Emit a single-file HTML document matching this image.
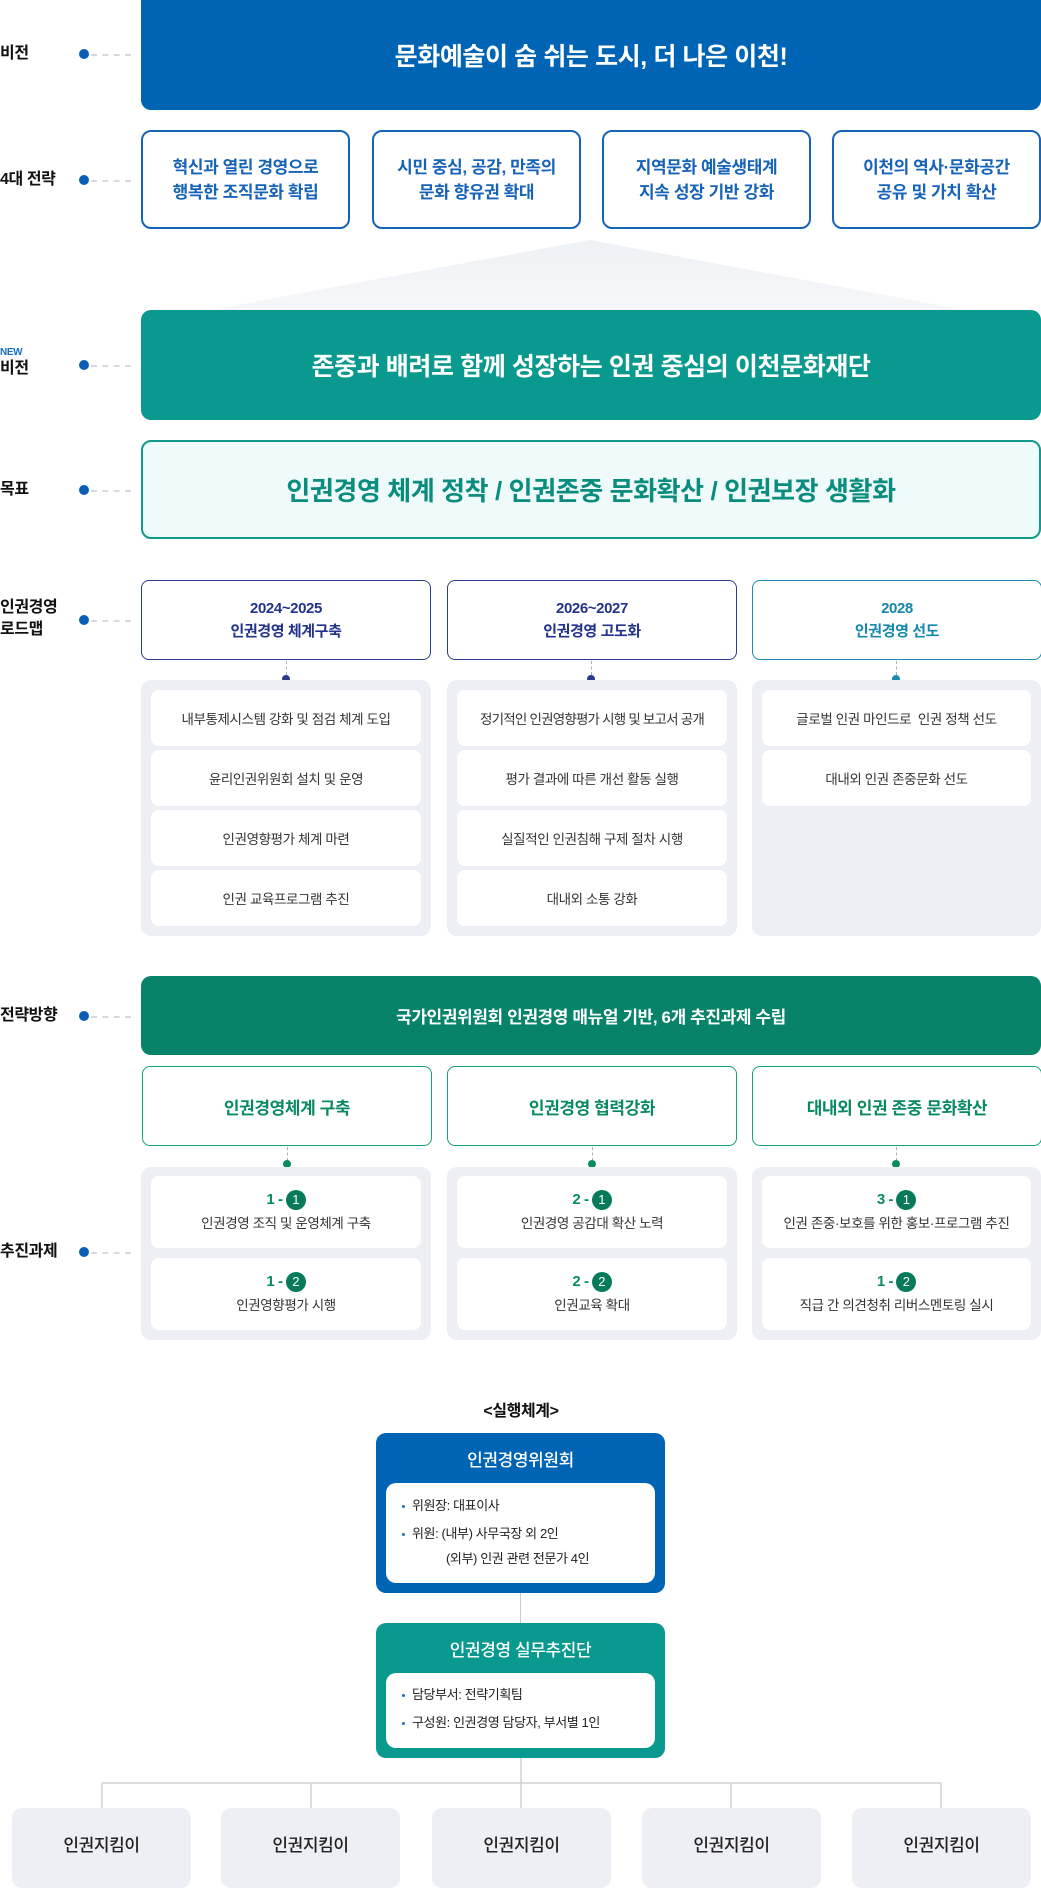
<!DOCTYPE html>
<html><head><meta charset="utf-8"><style>
*{margin:0;padding:0;box-sizing:border-box}
body{width:1041px;height:1878px;background:#fff;position:relative;overflow:hidden;font-family:"Liberation Sans","Noto Sans CJK KR",sans-serif;letter-spacing:-0.4px}
.a{position:absolute}
.c{display:flex;align-items:center;justify-content:center;text-align:center}
.lbl{position:absolute;left:0;font-size:16px;font-weight:700;color:#111;line-height:22px}
.dot{position:absolute;left:79px;width:10px;height:10px;border-radius:50%;background:#0a5fb4}
.dash{position:absolute;left:91px;width:40px;border-top:2px dashed #d6d9de}
.sb{position:absolute;top:130px;width:209px;height:99px;border:2px solid #1763b8;border-radius:10px;color:#1763b8;font-size:17px;font-weight:700;line-height:25px}
.rh{position:absolute;top:580px;width:290px;height:80px;border-radius:8px;font-size:15px;font-weight:700;line-height:23px;border:1.5px solid}
.pan{position:absolute;background:#eeeff4;border-radius:10px}
.it{position:absolute;background:#fff;border-radius:8px;font-size:13.5px;color:#333;height:56px}
.vl{position:absolute;border-left:1.5px dashed #aab0bb;width:0}
.nd{position:absolute;width:8px;height:8px;border-radius:50%}
.st{position:absolute;top:1066px;width:290px;height:80px;border:1.5px solid #16a07a;border-radius:8px;color:#0a8a62;font-size:17px;font-weight:700}
.tk{position:absolute;background:#fff;border-radius:8px;height:72px;font-size:13.5px;color:#333;flex-direction:column;line-height:24px}
.num{color:#0a8a62;font-weight:700;font-size:15px}
.ci{display:inline-block;width:20px;height:20px;border-radius:50%;background:#077a5c;color:#fff;font-size:13px;line-height:20px;text-align:center;vertical-align:middle;margin-left:3px}
.kk{position:absolute;top:1808px;width:179px;height:80px;background:#eeeff4;border-radius:10px;font-size:17px;font-weight:500;color:#222;padding-bottom:10px}
.in{position:absolute;background:#fff;border-radius:10px;font-size:13px;color:#222;line-height:25px}
.bu{display:inline-block;width:3px;height:3px;border-radius:50%;background:#1a6fc4;vertical-align:middle;margin-right:7px}
</style></head><body>

<!-- labels -->
<div class="lbl" style="top:43px">비전</div><div class="dot" style="top:49px"></div><div class="dash" style="top:54px"></div>
<div class="lbl" style="top:169px">4대 전략</div><div class="dot" style="top:175px"></div><div class="dash" style="top:180px"></div>
<div class="a" style="left:0;top:347px;font-size:10px;font-weight:700;color:#1a6fc4">NEW</div>
<div class="lbl" style="top:358px">비전</div><div class="dot" style="top:360px"></div><div class="dash" style="top:365px"></div>
<div class="lbl" style="top:479px">목표</div><div class="dot" style="top:485px"></div><div class="dash" style="top:490px"></div>
<div class="lbl" style="top:597px">인권경영<br>로드맵</div><div class="dot" style="top:615px"></div><div class="dash" style="top:620px"></div>
<div class="lbl" style="top:1005px">전략방향</div><div class="dot" style="top:1011px"></div><div class="dash" style="top:1016px"></div>
<div class="lbl" style="top:1241px">추진과제</div><div class="dot" style="top:1247px"></div><div class="dash" style="top:1252px"></div>

<!-- vision -->
<div class="a c" style="left:141px;top:0;width:900px;height:110px;background:#0064b4;border-radius:0 0 10px 10px;color:#fff;font-size:25px;font-weight:700">문화예술이 숨 쉬는 도시, 더 나은 이천!</div>

<div class="sb c" style="left:141px">혁신과 열린 경영으로<br>행복한 조직문화 확립</div>
<div class="sb c" style="left:372px">시민 중심, 공감, 만족의<br>문화 향유권 확대</div>
<div class="sb c" style="left:602px">지역문화 예술생태계<br>지속 성장 기반 강화</div>
<div class="sb c" style="left:832px">이천의 역사·문화공간<br>공유 및 가치 확산</div>

<svg class="a" style="left:0;top:0" width="1041" height="320"><defs><linearGradient id="g" x1="0" y1="0" x2="0" y2="1"><stop offset="0" stop-color="#eef1f5"/><stop offset="1" stop-color="#f6f7f9"/></linearGradient></defs><polygon points="590,240 976,312 199,312" fill="url(#g)"/></svg>

<div class="a c" style="left:141px;top:310px;width:900px;height:110px;background:#0a998e;border-radius:10px;color:#fff;font-size:25px;font-weight:700">존중과 배려로 함께 성장하는 인권 중심의 이천문화재단</div>

<div class="a c" style="left:141px;top:440px;width:900px;height:99px;background:#effafa;border:2px solid #11998c;border-radius:10px;color:#0a8d7e;font-size:26px;font-weight:700">인권경영 체계 정착 / 인권존중 문화확산 / 인권보장 생활화</div>

<!-- roadmap -->
<div class="rh c" style="left:141px;border-color:#2b3a8f;color:#23338a">2024~2025<br>인권경영 체계구축</div>
<div class="rh c" style="left:447px;border-color:#2b3a8f;color:#23338a">2026~2027<br>인권경영 고도화</div>
<div class="rh c" style="left:752px;border-color:#1a8ab0;color:#1787ae">2028<br>인권경영 선도</div>
<div class="vl" style="left:286px;top:661px;height:14px"></div><div class="nd" style="left:282px;top:675px;background:#2b3a8f"></div>
<div class="vl" style="left:591px;top:661px;height:14px"></div><div class="nd" style="left:587px;top:675px;background:#2b3a8f"></div>
<div class="vl" style="left:896px;top:661px;height:14px"></div><div class="nd" style="left:892px;top:675px;background:#1a8ab0"></div>

<div class="pan" style="left:141px;top:680px;width:290px;height:256px"></div>
<div class="pan" style="left:447px;top:680px;width:290px;height:256px"></div>
<div class="pan" style="left:752px;top:680px;width:289px;height:256px"></div>

<div class="it c" style="left:151px;top:690px;width:270px">내부통제시스템 강화 및 점검 체계 도입</div>
<div class="it c" style="left:151px;top:750px;width:270px">윤리인권위원회 설치 및 운영</div>
<div class="it c" style="left:151px;top:810px;width:270px">인권영향평가 체계 마련</div>
<div class="it c" style="left:151px;top:870px;width:270px">인권 교육프로그램 추진</div>
<div class="it c" style="left:457px;top:690px;width:270px;letter-spacing:-0.8px">정기적인 인권영향평가 시행 및 보고서 공개</div>
<div class="it c" style="left:457px;top:750px;width:270px">평가 결과에 따른 개선 활동 실행</div>
<div class="it c" style="left:457px;top:810px;width:270px">실질적인 인권침해 구제 절차 시행</div>
<div class="it c" style="left:457px;top:870px;width:270px">대내외 소통 강화</div>
<div class="it c" style="left:762px;top:690px;width:269px">글로벌 인권 마인드로 &nbsp;인권 정책 선도</div>
<div class="it c" style="left:762px;top:750px;width:269px">대내외 인권 존중문화 선도</div>

<!-- strategy -->
<div class="a c" style="left:141px;top:976px;width:900px;height:79px;background:#07836a;border-radius:10px;color:#fff;font-size:17px;font-weight:700">국가인권위원회 인권경영 매뉴얼 기반, 6개 추진과제 수립</div>
<div class="st c" style="left:142px">인권경영체계 구축</div>
<div class="st c" style="left:447px">인권경영 협력강화</div>
<div class="st c" style="left:752px">대내외 인권 존중 문화확산</div>
<div class="vl" style="left:287px;top:1147px;height:14px"></div><div class="nd" style="left:283px;top:1160px;background:#0a8a62"></div>
<div class="vl" style="left:592px;top:1147px;height:14px"></div><div class="nd" style="left:588px;top:1160px;background:#0a8a62"></div>
<div class="vl" style="left:896px;top:1147px;height:14px"></div><div class="nd" style="left:892px;top:1160px;background:#0a8a62"></div>

<div class="pan" style="left:141px;top:1167px;width:290px;height:173px"></div>
<div class="pan" style="left:447px;top:1167px;width:290px;height:173px"></div>
<div class="pan" style="left:752px;top:1167px;width:289px;height:173px"></div>

<div class="tk c" style="left:151px;top:1176px;width:270px"><div><span class="num">1 -</span><span class="ci">1</span></div><div>인권경영 조직 및 운영체계 구축</div></div>
<div class="tk c" style="left:151px;top:1258px;width:270px"><div><span class="num">1 -</span><span class="ci">2</span></div><div>인권영향평가 시행</div></div>
<div class="tk c" style="left:457px;top:1176px;width:270px"><div><span class="num">2 -</span><span class="ci">1</span></div><div>인권경영 공감대 확산 노력</div></div>
<div class="tk c" style="left:457px;top:1258px;width:270px"><div><span class="num">2 -</span><span class="ci">2</span></div><div>인권교육 확대</div></div>
<div class="tk c" style="left:762px;top:1176px;width:269px"><div><span class="num">3 -</span><span class="ci">1</span></div><div>인권 존중·보호를 위한 홍보·프로그램 추진</div></div>
<div class="tk c" style="left:762px;top:1258px;width:269px"><div><span class="num">1 -</span><span class="ci">2</span></div><div>직급 간 의견청취 리버스멘토링 실시</div></div>

<!-- execution -->
<div class="a c" style="left:421px;top:1397px;width:200px;height:24px;font-size:16px;font-weight:700;color:#111">&lt;실행체계&gt;</div>

<div class="a" style="left:376px;top:1433px;width:289px;height:160px;background:#0064b4;border-radius:10px"></div>
<div class="a c" style="left:376px;top:1445px;width:289px;height:26px;color:#fff;font-size:17px;font-weight:500">인권경영위원회</div>
<div class="in" style="left:386px;top:1483px;width:269px;height:100px;padding:10px 0 0 16px">
<div><span class="bu"></span>위원장: 대표이사</div>
<div style="margin-top:3px"><span class="bu"></span>위원: (내부) 사무국장 외 2인</div>
<div style="padding-left:44px">(외부) 인권 관련 전문가 4인</div>
</div>
<div class="a" style="left:520px;top:1593px;width:1px;height:30px;background:#ccc"></div>

<div class="a" style="left:376px;top:1623px;width:289px;height:135px;background:#0a998e;border-radius:10px"></div>
<div class="a c" style="left:376px;top:1635px;width:289px;height:26px;color:#fff;font-size:17px;font-weight:500">인권경영 실무추진단</div>
<div class="in" style="left:386px;top:1673px;width:269px;height:75px;padding:9px 0 0 16px">
<div><span class="bu"></span>담당부서: 전략기획팀</div>
<div style="margin-top:3px"><span class="bu"></span>구성원: 인권경영 담당자, 부서별 1인</div>
</div>

<svg class="a" style="left:0;top:1758px" width="1041" height="52"><g stroke="#cfd2d6" stroke-width="1.5" fill="none"><line x1="521" y1="0" x2="521" y2="50"/><line x1="102" y1="25" x2="941" y2="25"/><line x1="102" y1="25" x2="102" y2="50"/><line x1="311" y1="25" x2="311" y2="50"/><line x1="731" y1="25" x2="731" y2="50"/><line x1="941" y1="25" x2="941" y2="50"/></g></svg>

<div class="kk c" style="left:12px">인권지킴이</div>
<div class="kk c" style="left:221px">인권지킴이</div>
<div class="kk c" style="left:432px">인권지킴이</div>
<div class="kk c" style="left:642px">인권지킴이</div>
<div class="kk c" style="left:852px">인권지킴이</div>
</body></html>
